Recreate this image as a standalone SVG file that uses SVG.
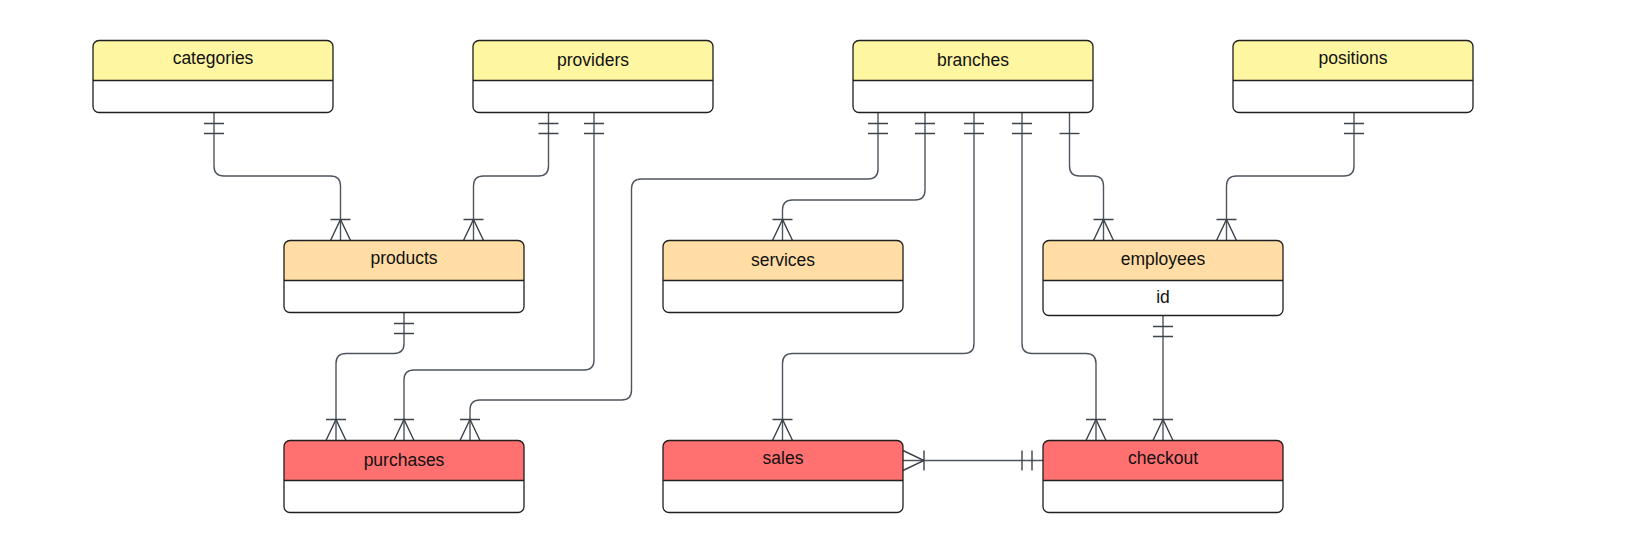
<svg xmlns="http://www.w3.org/2000/svg" width="1635" height="553" viewBox="0 0 1635 553">
  <style>
    .box { fill: none; stroke: #1f1f1f; stroke-width: 1.3; }
    .body { fill: #ffffff; }
    .div { stroke: #1f1f1f; stroke-width: 1.3; }
    .yellow { fill: #fff6a1; }
    .orange { fill: #ffdda4; }
    .red { fill: #ff7070; }
    .lbl { font-family: "Liberation Sans", Arial, sans-serif; font-size: 17.5px; fill: #111111; text-anchor: middle; }
    .conn { fill: none; stroke: #4f555e; stroke-width: 1.4; }
    .mk { fill: none; stroke: #3d434b; stroke-width: 1.4; }
  </style>
  <defs>
    <marker id="oneone" markerUnits="userSpaceOnUse" orient="auto" refX="0" refY="0" markerWidth="30" markerHeight="30" overflow="visible">
      <path class="mk" d="M11,-10 V10 M21,-10 V10"/>
    </marker>
    <marker id="one" markerUnits="userSpaceOnUse" orient="auto" refX="0" refY="0" markerWidth="30" markerHeight="30" overflow="visible">
      <path class="mk" d="M21,-10 V10"/>
    </marker>
    <marker id="many" markerUnits="userSpaceOnUse" orient="auto" refX="0" refY="0" markerWidth="30" markerHeight="30" overflow="visible">
      <path class="mk" d="M-21,-10 V10 M0,-10 L-21,0 L0,10"/>
    </marker>
  </defs>
  <rect width="1635" height="553" fill="#ffffff"/>

  <g id="connectors">
    <path class="conn" marker-start="url(#oneone)" marker-end="url(#many)" d="M214,112.5 V166 Q214,176 224,176 H330.5 Q340.5,176 340.5,186 V240.5"/>
    <path class="conn" marker-start="url(#oneone)" marker-end="url(#many)" d="M548.5,112.5 V166 Q548.5,176 538.5,176 H483.5 Q473.5,176 473.5,186 V240.5"/>
    <path class="conn" marker-start="url(#oneone)" marker-end="url(#many)" d="M594,112.5 V360 Q594,370 584,370 H414 Q404,370 404,380 V440.5"/>
    <path class="conn" marker-start="url(#oneone)" marker-end="url(#many)" d="M878,112.5 V169 Q878,179 868,179 H641.5 Q631.5,179 631.5,189 V390 Q631.5,400 621.5,400 H480 Q470,400 470,410 V440.5"/>
    <path class="conn" marker-start="url(#oneone)" marker-end="url(#many)" d="M925,112.5 V190 Q925,200 915,200 H792.5 Q782.5,200 782.5,210 V240.5"/>
    <path class="conn" marker-start="url(#oneone)" marker-end="url(#many)" d="M974,112.5 V343.5 Q974,353.5 964,353.5 H792.5 Q782.5,353.5 782.5,363.5 V440.5"/>
    <path class="conn" marker-start="url(#oneone)" marker-end="url(#many)" d="M1022,112.5 V343.5 Q1022,353.5 1032,353.5 H1086 Q1096,353.5 1096,363.5 V440.5"/>
    <path class="conn" marker-start="url(#one)" marker-end="url(#many)" d="M1069.5,112.5 V166 Q1069.5,176 1079.5,176 H1093.5 Q1103.5,176 1103.5,186 V240.5"/>
    <path class="conn" marker-start="url(#oneone)" marker-end="url(#many)" d="M1354,112.5 V166 Q1354,176 1344,176 H1236.5 Q1226.5,176 1226.5,186 V240.5"/>
    <path class="conn" marker-start="url(#oneone)" marker-end="url(#many)" d="M404,312.5 V343.5 Q404,353.5 394,353.5 H346 Q336,353.5 336,363.5 V440.5"/>
    <path class="conn" marker-start="url(#oneone)" marker-end="url(#many)" d="M1163,315.5 V440.5"/>
    <path class="conn" marker-start="url(#oneone)" marker-end="url(#many)" d="M1043,460.5 H903"/>
  </g>

  <g id="categories">
    <rect class="body" x="93" y="40.5" width="240" height="72" rx="6"/>
    <path class="yellow" d="M93,80.5 V46.5 Q93,40.5 99,40.5 H327 Q333,40.5 333,46.5 V80.5 Z"/>
    <line class="div" x1="93" y1="80.5" x2="333" y2="80.5"/>
    <rect class="box" x="93" y="40.5" width="240" height="72" rx="6"/>
    <text class="lbl" x="213" y="64">categories</text>
  </g>
  <g id="providers">
    <rect class="body" x="473" y="40.5" width="240" height="72" rx="6"/>
    <path class="yellow" d="M473,80.5 V46.5 Q473,40.5 479,40.5 H707 Q713,40.5 713,46.5 V80.5 Z"/>
    <line class="div" x1="473" y1="80.5" x2="713" y2="80.5"/>
    <rect class="box" x="473" y="40.5" width="240" height="72" rx="6"/>
    <text class="lbl" x="593" y="65.5">providers</text>
  </g>
  <g id="branches">
    <rect class="body" x="853" y="40.5" width="240" height="72" rx="6"/>
    <path class="yellow" d="M853,80.5 V46.5 Q853,40.5 859,40.5 H1087 Q1093,40.5 1093,46.5 V80.5 Z"/>
    <line class="div" x1="853" y1="80.5" x2="1093" y2="80.5"/>
    <rect class="box" x="853" y="40.5" width="240" height="72" rx="6"/>
    <text class="lbl" x="973" y="65.5">branches</text>
  </g>
  <g id="positions">
    <rect class="body" x="1233" y="40.5" width="240" height="72" rx="6"/>
    <path class="yellow" d="M1233,80.5 V46.5 Q1233,40.5 1239,40.5 H1467 Q1473,40.5 1473,46.5 V80.5 Z"/>
    <line class="div" x1="1233" y1="80.5" x2="1473" y2="80.5"/>
    <rect class="box" x="1233" y="40.5" width="240" height="72" rx="6"/>
    <text class="lbl" x="1353" y="64">positions</text>
  </g>

  <g id="products">
    <rect class="body" x="284" y="240.5" width="240" height="72" rx="6"/>
    <path class="orange" d="M284,280.5 V246.5 Q284,240.5 290,240.5 H518 Q524,240.5 524,246.5 V280.5 Z"/>
    <line class="div" x1="284" y1="280.5" x2="524" y2="280.5"/>
    <rect class="box" x="284" y="240.5" width="240" height="72" rx="6"/>
    <text class="lbl" x="404" y="264">products</text>
  </g>
  <g id="services">
    <rect class="body" x="663" y="240.5" width="240" height="72" rx="6"/>
    <path class="orange" d="M663,280.5 V246.5 Q663,240.5 669,240.5 H897 Q903,240.5 903,246.5 V280.5 Z"/>
    <line class="div" x1="663" y1="280.5" x2="903" y2="280.5"/>
    <rect class="box" x="663" y="240.5" width="240" height="72" rx="6"/>
    <text class="lbl" x="783" y="265.5">services</text>
  </g>
  <g id="employees">
    <rect class="body" x="1043" y="240.5" width="240" height="75" rx="6"/>
    <path class="orange" d="M1043,280.5 V246.5 Q1043,240.5 1049,240.5 H1277 Q1283,240.5 1283,246.5 V280.5 Z"/>
    <line class="div" x1="1043" y1="280.5" x2="1283" y2="280.5"/>
    <rect class="box" x="1043" y="240.5" width="240" height="75" rx="6"/>
    <text class="lbl" x="1163" y="264.5">employees</text>
    <text class="lbl" x="1163" y="302.5">id</text>
  </g>

  <g id="purchases">
    <rect class="body" x="284" y="440.5" width="240" height="72" rx="6"/>
    <path class="red" d="M284,480.5 V446.5 Q284,440.5 290,440.5 H518 Q524,440.5 524,446.5 V480.5 Z"/>
    <line class="div" x1="284" y1="480.5" x2="524" y2="480.5"/>
    <rect class="box" x="284" y="440.5" width="240" height="72" rx="6"/>
    <text class="lbl" x="404" y="465.5">purchases</text>
  </g>
  <g id="sales">
    <rect class="body" x="663" y="440.5" width="240" height="72" rx="6"/>
    <path class="red" d="M663,480.5 V446.5 Q663,440.5 669,440.5 H897 Q903,440.5 903,446.5 V480.5 Z"/>
    <line class="div" x1="663" y1="480.5" x2="903" y2="480.5"/>
    <rect class="box" x="663" y="440.5" width="240" height="72" rx="6"/>
    <text class="lbl" x="783" y="464">sales</text>
  </g>
  <g id="checkout">
    <rect class="body" x="1043" y="440.5" width="240" height="72" rx="6"/>
    <path class="red" d="M1043,480.5 V446.5 Q1043,440.5 1049,440.5 H1277 Q1283,440.5 1283,446.5 V480.5 Z"/>
    <line class="div" x1="1043" y1="480.5" x2="1283" y2="480.5"/>
    <rect class="box" x="1043" y="440.5" width="240" height="72" rx="6"/>
    <text class="lbl" x="1163" y="464">checkout</text>
  </g>
</svg>
